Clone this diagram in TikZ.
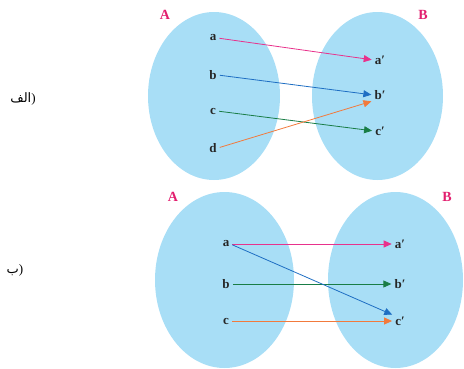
\documentclass[tikz,border=0pt]{standalone}
\usepackage{fontspec}
\setmainfont{Liberation Serif}
\newfontfamily\arabicfont[Script=Arabic]{DejaVu Sans}
\TeXXeTstate=1
\usetikzlibrary{arrows.meta}
\definecolor{setfill}{RGB}{168,222,246}
\definecolor{setlabel}{RGB}{226,30,110}
\definecolor{cmag}{RGB}{232,50,140}
\definecolor{cblue}{RGB}{30,110,195}
\definecolor{cgreen}{RGB}{25,125,70}
\definecolor{corange}{RGB}{242,122,60}
\tikzset{
  setshape/.style={fill=setfill, draw=none},
  elem/.style={font=\fontsize{13}{15}\selectfont\bfseries, inner sep=1pt, text=black!85},
  setname/.style={font=\fontsize{14}{16}\selectfont\bfseries, text=setlabel, inner sep=0pt},
  partlabel/.style={font=\fontsize{13}{15}\selectfont, inner sep=0pt},
  maparrow/.style={line width=0.8pt, -{Triangle[length=8pt,width=7pt]}, shorten <=2pt, shorten >=2pt}
}
\begin{document}
\begin{tikzpicture}[x=1pt,y=-1pt]
\useasboundingbox (0,0) rectangle (464,368);
% top diagram
\fill[setshape] (214,96) ellipse [x radius=66, y radius=84];
\fill[setshape] (377.5,96) ellipse [x radius=65.5, y radius=84];
\node[setname] (A1) at (165,15) {A};
\node[setname] (B1) at (423,15) {B};
\node[elem] (a1) at (213,38) {a};
\node[elem] (b1) at (213,75) {b};
\node[elem] (c1) at (213,111) {c};
\node[elem] (d1) at (213,148) {d};
\node[elem] (ap1) at (380,60) {a′};
\node[elem] (bp1) at (380,95) {b′};
\node[elem] (cp1) at (380,131) {c′};
\draw[maparrow, cmag] (a1.east) -- (ap1.west);
\draw[maparrow, cblue] (b1.east) -- (bp1.west);
\draw[maparrow, cgreen] (c1.east) -- (cp1.west);
\draw[maparrow, corange] (d1.east) -- (bp1.south west);
\node[partlabel] (L1) at (23,99) {\hbox{\arabicfont\beginR الف\endR}\hbox{)}};
% bottom diagram
\fill[setshape] (224.5,280) ellipse [x radius=69.5, y radius=88];
\fill[setshape] (395.5,280) ellipse [x radius=67.5, y radius=88];
\node[setname] (A2) at (173,197) {A};
\node[setname] (B2) at (447,197) {B};
\node[elem] (a2) at (226,244) {a};
\node[elem] (b2) at (226,284) {b};
\node[elem] (c2) at (226,321) {c};
\node[elem] (ap2) at (400,244) {a′};
\node[elem] (bp2) at (400,284) {b′};
\node[elem] (cp2) at (400,321) {c′};
\draw[maparrow, cmag] (a2.east) -- (ap2.west);
\draw[maparrow, cgreen] (b2.east) -- (bp2.west);
\draw[maparrow, corange] (c2.east) -- (cp2.west);
\draw[maparrow, cblue] (a2.east) -- (cp2.north west);
\node[partlabel] (L2) at (15,270) {\hbox{\arabicfont\beginR ب\endR}\hbox{)}};
\end{tikzpicture}
\end{document}
